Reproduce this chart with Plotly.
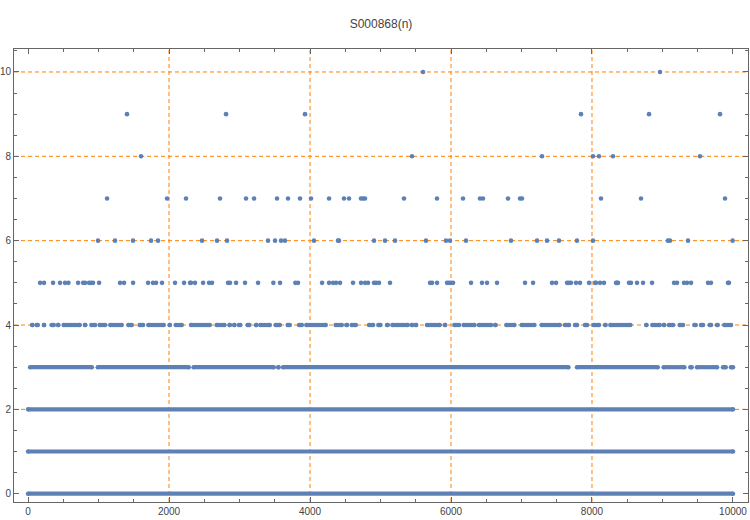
import plotly.graph_objects as go

# ---- data ----
# dense levels: runs of consecutive n (start, end) where the value occurs
level0_runs = [(1, 10000)]
level1_runs = [(1, 10000)]
level2_runs = [(1, 10000)]
level3_runs = [(30, 905), (990, 2280), (2350, 3486), (3552, 3552), (3618, 7665),
               (7788, 8932), (9017, 9310), (9395, 9414), (9490, 9774),
               (9859, 9897), (9972, 10000)]
level4_runs = [(60, 60), (123, 138), (227, 227), (336, 365), (428, 428), (506, 733),
               (809, 809), (899, 951), (1017, 1093), (1168, 1329), (1424, 1471),
               (1584, 1632), (1707, 1925), (2010, 2010), (2095, 2180), (2312, 2577),
               (2676, 2785), (2861, 2861), (2927, 2927), (2993, 3012), (3116, 3140),
               (3237, 3237), (3296, 3429), (3514, 3571), (3684, 3713), (3845, 3883),
               (3949, 4223), (4365, 4450), (4516, 4526), (4592, 4649), (4838, 4895),
               (4970, 4999), (5093, 5103), (5169, 5386), (5448, 5448), (5504, 5504),
               (5660, 5840), (5916, 5916), (6048, 6114), (6180, 6332), (6398, 6568),
               (6630, 6630), (6786, 6899), (7003, 7183), (7287, 7542), (7618, 7674),
               (7760, 7788), (7901, 7930), (8024, 8100), (8190, 8190), (8261, 8544),
               (8771, 8771), (8856, 8960), (9022, 9022), (9093, 9150), (9244, 9291),
               (9452, 9471), (9547, 9575), (9670, 9689), (9774, 9783), (9878, 9972)]

# sparse levels: individual n values
level5_n = [171, 227, 355, 454, 525, 573, 710, 781, 809, 866, 894, 922, 1008, 1305, 1362,
            1490, 1703, 1773, 1816, 1901, 2085, 2213, 2298, 2312, 2369, 2483, 2568, 2610,
            2837, 2865, 2951, 3078, 3263, 3480, 3575, 3792, 3830, 4171, 4270, 4327, 4369,
            4426, 4610, 4724, 4781, 4823, 4908, 4937, 4979, 5135, 5703, 5731, 5802, 5944,
            5972, 6000, 6029, 6284, 6440, 6511, 6653, 7050, 7164, 7433, 7490, 7646, 7674,
            7702, 7773, 7830, 7958, 8043, 8057, 8114, 8170, 8341, 8355, 8369, 8525, 8553,
            8639, 8724, 8852, 9164, 9206, 9305, 9348, 9405, 9646, 9688, 9929, 9943]
level6_n = [993, 1234, 1489, 1745, 1844, 2468, 2681, 2823, 3404, 3504, 3589, 3645, 4057,
            4397, 4411, 4908, 5064, 5206, 5645, 5929, 5986, 6213, 6851, 7220, 7362, 7532,
            7787, 8014, 9078, 9106, 9362, 9995]
level7_n = [1121, 1972, 2241, 2723, 3092, 3206, 3532, 3688, 3858, 4014, 4270, 4482, 4553,
            4723, 4752, 4780, 5333, 5801, 6170, 6411, 6454, 6809, 6979, 7007, 8128, 8695,
            9887]
level8_n = [1603, 5447, 7291, 8014, 8099, 8298, 9532]
level9_n = [1404, 2809, 3929, 7844, 8809, 9816]
level10_n = [5603, 8965]

x_grid = [2000, 4000, 6000, 8000]
y_grid = [2, 4, 6, 8, 10]

BLUE = "#5E81B5"
ORANGE = "#FF8000"
FRAME = "#666666"
MSIZE = 4.6

fig = go.Figure()

# dense levels drawn as runs (marker at each end, stroke in between)
for lvl, runs in [(0, level0_runs), (1, level1_runs), (2, level2_runs),
                  (3, level3_runs), (4, level4_runs)]:
    xs, ys = [], []
    for a, b in runs:
        xs += [a, b, None]
        ys += [lvl, lvl, None]
    fig.add_trace(go.Scatter(x=xs, y=ys, mode="lines+markers",
                             line=dict(color=BLUE, width=4.2),
                             marker=dict(color=BLUE, size=MSIZE, line=dict(width=0)),
                             showlegend=False, hoverinfo="skip"))

sparse_x, sparse_y = [], []
for lvl, ns in [(5, level5_n), (6, level6_n), (7, level7_n), (8, level8_n),
                (9, level9_n), (10, level10_n)]:
    sparse_x += ns
    sparse_y += [lvl] * len(ns)
fig.add_trace(go.Scatter(x=sparse_x, y=sparse_y, mode="markers",
                         marker=dict(color=BLUE, size=MSIZE, line=dict(width=0)),
                         showlegend=False, hoverinfo="skip"))

for gx in x_grid:
    fig.add_shape(type="line", xref="x", yref="paper", x0=gx, x1=gx, y0=0, y1=1,
                  line=dict(color=ORANGE, width=1, dash="4px,3px"), layer="below")
for gy in y_grid:
    fig.add_shape(type="line", xref="paper", yref="y", x0=0, x1=1, y0=gy, y1=gy,
                  line=dict(color=ORANGE, width=1, dash="4px,3px"), layer="below")

axis_common = dict(showgrid=False, zeroline=False, showline=True, linecolor=FRAME,
                   linewidth=1, mirror="allticks", ticks="inside", ticklen=5,
                   tickcolor=FRAME, tickwidth=1, automargin=False, tickformat="d",
                   tickfont=dict(family="Liberation Sans, Arial, sans-serif",
                                 size=10, color="#444444"))

fig.update_layout(
    width=750, height=520,
    margin=dict(l=14, r=2, t=49, b=18),
    paper_bgcolor="white", plot_bgcolor="white",
    title=dict(text="S000868(n)", x=0.508, xanchor="center", y=0.954, yanchor="middle",
               font=dict(family="Liberation Sans, Arial, sans-serif", size=12,
                         color="#444444")),
    xaxis=dict(range=[-199, 10213], tick0=0, dtick=2000,
               minor=dict(dtick=500, tick0=0, ticks="inside", ticklen=3,
                          tickcolor=FRAME, showgrid=False),
               **axis_common),
    yaxis=dict(range=[-0.197, 10.545], tick0=0, dtick=2,
               minor=dict(dtick=0.5, tick0=0, ticks="inside", ticklen=3,
                          tickcolor=FRAME, showgrid=False),
               **axis_common),
)

fig.write_html("out.html",
               config={"displayModeBar": False},
               post_script="document.body.style.margin='0';document.body.style.overflow='hidden';")
